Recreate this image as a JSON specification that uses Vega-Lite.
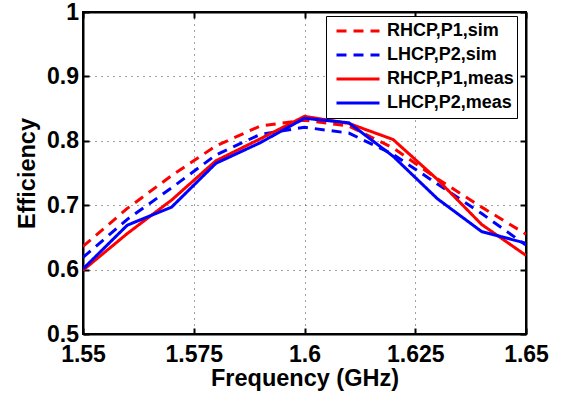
{
  "$schema": "https://vega.github.io/schema/vega-lite/v6.json",
  "width": 443,
  "height": 322,
  "autosize": {"type": "none"},
  "padding": {"left": 83, "top": 12, "right": 38, "bottom": 63},
  "background": "white",
  "config": {
    "font": "Liberation Sans",
    "view": {"stroke": "black", "strokeWidth": 2},
    "axis": {
      "labelFont": "Liberation Sans",
      "labelFontWeight": "bold",
      "labelFontSize": 23,
      "labelColor": "black",
      "titleFont": "Liberation Sans",
      "titleFontWeight": "bold",
      "titleFontSize": 23.5,
      "titleColor": "black",
      "domainColor": "black",
      "domainWidth": 2,
      "tickColor": "black",
      "tickWidth": 2,
      "tickSize": -6,
      "gridColor": "#444444",
      "gridDash": [1, 5],
      "gridWidth": 1,
      "gridOpacity": 1
    },
    "legend": {
      "orient": "none",
      "legendX": 243,
      "legendY": 4,
      "strokeColor": "black",
      "fillColor": "white",
      "padding": 3,
      "symbolType": "stroke",
      "symbolSize": 1849,
      "symbolStrokeWidth": 3,
      "symbolOffset": 6,
      "labelFont": "Liberation Sans",
      "labelFontSize": 18,
      "labelFontWeight": "bold",
      "labelColor": "black",
      "labelOffset": 6,
      "rowPadding": 0,
      "clipHeight": 24
    }
  },
  "data": {
    "values": [
      {"f": 1.55, "eff": 0.636, "series": "RHCP,P1,sim"},
      {"f": 1.56, "eff": 0.695, "series": "RHCP,P1,sim"},
      {"f": 1.57, "eff": 0.746, "series": "RHCP,P1,sim"},
      {"f": 1.58, "eff": 0.792, "series": "RHCP,P1,sim"},
      {"f": 1.59, "eff": 0.823, "series": "RHCP,P1,sim"},
      {"f": 1.6, "eff": 0.832, "series": "RHCP,P1,sim"},
      {"f": 1.61, "eff": 0.823, "series": "RHCP,P1,sim"},
      {"f": 1.62, "eff": 0.789, "series": "RHCP,P1,sim"},
      {"f": 1.63, "eff": 0.741, "series": "RHCP,P1,sim"},
      {"f": 1.64, "eff": 0.697, "series": "RHCP,P1,sim"},
      {"f": 1.65, "eff": 0.655, "series": "RHCP,P1,sim"},
      {"f": 1.55, "eff": 0.619, "series": "LHCP,P2,sim"},
      {"f": 1.56, "eff": 0.678, "series": "LHCP,P2,sim"},
      {"f": 1.57, "eff": 0.727, "series": "LHCP,P2,sim"},
      {"f": 1.58, "eff": 0.778, "series": "LHCP,P2,sim"},
      {"f": 1.59, "eff": 0.81, "series": "LHCP,P2,sim"},
      {"f": 1.6, "eff": 0.821, "series": "LHCP,P2,sim"},
      {"f": 1.61, "eff": 0.812, "series": "LHCP,P2,sim"},
      {"f": 1.62, "eff": 0.779, "series": "LHCP,P2,sim"},
      {"f": 1.63, "eff": 0.733, "series": "LHCP,P2,sim"},
      {"f": 1.64, "eff": 0.687, "series": "LHCP,P2,sim"},
      {"f": 1.65, "eff": 0.638, "series": "LHCP,P2,sim"},
      {"f": 1.55, "eff": 0.599, "series": "RHCP,P1,meas"},
      {"f": 1.56, "eff": 0.656, "series": "RHCP,P1,meas"},
      {"f": 1.57, "eff": 0.708, "series": "RHCP,P1,meas"},
      {"f": 1.58, "eff": 0.769, "series": "RHCP,P1,meas"},
      {"f": 1.59, "eff": 0.803, "series": "RHCP,P1,meas"},
      {"f": 1.6, "eff": 0.838, "series": "RHCP,P1,meas"},
      {"f": 1.61, "eff": 0.827, "series": "RHCP,P1,meas"},
      {"f": 1.62, "eff": 0.802, "series": "RHCP,P1,meas"},
      {"f": 1.63, "eff": 0.74, "series": "RHCP,P1,meas"},
      {"f": 1.64, "eff": 0.67, "series": "RHCP,P1,meas"},
      {"f": 1.65, "eff": 0.622, "series": "RHCP,P1,meas"},
      {"f": 1.55, "eff": 0.601, "series": "LHCP,P2,meas"},
      {"f": 1.56, "eff": 0.669, "series": "LHCP,P2,meas"},
      {"f": 1.57, "eff": 0.697, "series": "LHCP,P2,meas"},
      {"f": 1.58, "eff": 0.765, "series": "LHCP,P2,meas"},
      {"f": 1.59, "eff": 0.797, "series": "LHCP,P2,meas"},
      {"f": 1.6, "eff": 0.835, "series": "LHCP,P2,meas"},
      {"f": 1.61, "eff": 0.828, "series": "LHCP,P2,meas"},
      {"f": 1.62, "eff": 0.776, "series": "LHCP,P2,meas"},
      {"f": 1.63, "eff": 0.71, "series": "LHCP,P2,meas"},
      {"f": 1.64, "eff": 0.659, "series": "LHCP,P2,meas"},
      {"f": 1.65, "eff": 0.641, "series": "LHCP,P2,meas"}
    ]
  },
  "layer": [
    {
      "mark": {"type": "line", "strokeWidth": 3, "clip": true},
      "encoding": {
        "x": {
          "field": "f", "type": "quantitative",
          "scale": {"domain": [1.55, 1.65], "nice": false, "zero": false},
          "axis": {"orient": "bottom", "values": [1.55, 1.575, 1.6, 1.625, 1.65], "format": ".3~f", "grid": true, "title": "Frequency (GHz)", "labelPadding": 15.5, "titlePadding": 0, "labelFlush": false}
        },
        "y": {
          "field": "eff", "type": "quantitative",
          "scale": {"domain": [0.5, 1], "nice": false, "zero": false},
          "axis": {"orient": "left", "values": [0.5, 0.6, 0.7, 0.8, 0.9, 1], "format": ".1~f", "grid": true, "title": "Efficiency", "labelPadding": 10.5, "titlePadding": 7, "labelFlush": false}
        },
        "color": {
          "field": "series", "type": "nominal",
          "scale": {"domain": ["RHCP,P1,sim", "LHCP,P2,sim", "RHCP,P1,meas", "LHCP,P2,meas"], "range": ["#ff0000", "#0000ff", "#ff0000", "#0000ff"]},
          "legend": {"title": null, "labelExpr": "datum.label + '\u00a0'"}
        },
        "strokeDash": {
          "field": "series", "type": "nominal",
          "scale": {"domain": ["RHCP,P1,sim", "LHCP,P2,sim", "RHCP,P1,meas", "LHCP,P2,meas"], "range": [[10, 7], [10, 7], [1, 0], [1, 0]]},
          "legend": {"title": null, "labelExpr": "datum.label + '\u00a0'"}
        }
      }
    },
    {
      "mark": {"type": "line", "opacity": 0},
      "encoding": {
        "x": {
          "field": "f", "type": "quantitative",
          "scale": {"domain": [1.55, 1.65], "nice": false, "zero": false},
          "axis": {"orient": "top", "values": [1.55, 1.575, 1.6, 1.625, 1.65], "labels": false, "grid": false, "title": null}
        },
        "y": {
          "field": "eff", "type": "quantitative",
          "scale": {"domain": [0.5, 1], "nice": false, "zero": false},
          "axis": {"orient": "right", "values": [0.5, 0.6, 0.7, 0.8, 0.9, 1], "labels": false, "grid": false, "title": null}
        }
      }
    }
  ],
  "resolve": {"axis": {"x": "independent", "y": "independent"}}
}
